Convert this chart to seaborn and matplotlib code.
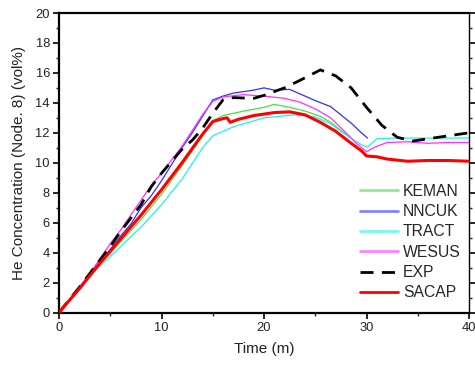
import matplotlib
matplotlib.use("Agg")
import matplotlib.pyplot as plt
from matplotlib.ticker import MultipleLocator
import seaborn as sns
import pandas as pd

# ---- data ----
keman_t = [0, 2, 4, 6, 8, 10, 12, 14, 15, 16, 18, 20, 21, 22.5, 24, 25.5, 26.5, 28]
keman_c = [0, 1.6, 3.2, 4.7, 6.2, 7.9, 9.8, 11.8, 12.8, 13.15, 13.45, 13.7, 13.9, 13.7, 13.45, 13.1, 12.7, 11.9]

nncuk_t = [0, 2, 3, 4, 5, 6, 7, 8, 9, 10, 11, 12, 13, 14, 15, 16, 17, 18, 19, 20, 21, 22.5, 24, 25, 26.5, 27.5, 28.5, 29.5, 30.1]
nncuk_c = [0, 1.6, 2.5, 3.4, 4.2, 5.1, 5.9, 7.0, 7.8, 8.8, 9.9, 11.0, 12.0, 13.1, 14.2, 14.45, 14.65, 14.75, 14.85, 15.0, 14.85, 14.9, 14.45, 14.15, 13.75, 13.2, 12.65, 12.0, 11.65]

tract_t = [0, 2, 3, 4, 6, 8, 10, 12, 14, 15, 17, 20, 23, 25, 26.5, 28, 29.5, 30.1, 31, 33, 36, 40]
tract_c = [0, 1.6, 2.4, 3.1, 4.4, 5.7, 7.2, 8.9, 11.0, 11.8, 12.4, 13.0, 13.2, 13.05, 12.6, 11.85, 11.2, 11.05, 11.6, 11.65, 11.65, 11.65]

wesus_t = [0, 2, 3, 4, 5, 6, 8, 9, 10, 12, 14, 15, 16, 18, 20, 22, 23.5, 25, 26.5, 28, 29, 30, 31, 32, 34, 36, 38, 40]
wesus_c = [0, 1.7, 2.6, 3.6, 4.6, 5.5, 7.5, 8.5, 9.3, 11.1, 13.2, 14.1, 14.4, 14.55, 14.45, 14.3, 14.05, 13.6, 13.0, 12.0, 11.3, 10.75, 11.1, 11.35, 11.4, 11.3, 11.35, 11.35]

exp_t = [0, 2, 4, 5, 6, 8, 9, 10, 11, 12, 13, 14, 15, 16, 17, 19, 20, 22, 23.5, 25.5, 27, 28.5, 30, 31.5, 33, 34.5, 36, 38, 40]
exp_c = [0, 1.7, 3.5, 4.4, 5.4, 7.2, 8.4, 9.3, 10.1, 10.9, 11.5, 12.3, 13.3, 14.2, 14.35, 14.3, 14.5, 15.0, 15.5, 16.2, 15.8, 15.0, 13.7, 12.5, 11.7, 11.45, 11.6, 11.8, 12.0]

sacap_t = [0, 2, 4, 6, 8, 10, 12, 14, 15, 16, 16.4, 16.7, 17.5, 19, 21, 22.5, 24, 25.5, 27, 28.5, 29.5, 30, 31, 32, 34, 36, 38, 40]
sacap_c = [0, 1.6, 3.3, 4.9, 6.5, 8.2, 10.0, 11.9, 12.75, 12.95, 13.0, 12.7, 12.9, 13.15, 13.35, 13.4, 13.2, 12.7, 12.1, 11.3, 10.8, 10.45, 10.4, 10.25, 10.1, 10.15, 10.15, 10.1]

# ---- styling ----
sns.set_style("ticks")
plt.rcParams['font.family'] = ['Liberation Sans', 'DejaVu Sans']

fig = plt.figure(figsize=(4.75, 3.66), dpi=100)
ax = fig.add_axes([59/475, 1-312.5/366, 410/475, 299.5/366])

series = [
    ("KEMAN", keman_t, keman_c, "#44e044", 0.9, "-", 2),
    ("NNCUK", nncuk_t, nncuk_c, "#3030ff", 0.9, "-", 2),
    ("TRACT", tract_t, tract_c, "#22f0f0", 0.9, "-", 2),
    ("WESUS", wesus_t, wesus_c, "#ff30ff", 0.9, "-", 2),
    ("EXP", exp_t, exp_c, "black", 2.0, (0, (4.7, 3.0)), 3),
    ("SACAP", sacap_t, sacap_c, "#ff0000", 2.2, "-", 4),
]
for name, t, c, col, lw, ls, z in series:
    df = pd.DataFrame({"t": t, "c": c})
    sns.lineplot(data=df, x="t", y="c", ax=ax, color=col, linewidth=lw,
                 linestyle=ls, label=name, sort=False, estimator=None, zorder=z)

ax.set_xlim(0, 40)
ax.set_ylim(0, 20)
ax.xaxis.set_major_locator(MultipleLocator(10))
ax.xaxis.set_minor_locator(MultipleLocator(5))
ax.yaxis.set_major_locator(MultipleLocator(2))
ax.yaxis.set_minor_locator(MultipleLocator(1))

for side in ["left", "bottom", "top"]:
    ax.spines[side].set_linewidth(1.6)
ax.spines["right"].set_linewidth(1.0)
for s in ax.spines.values():
    s.set_color("black")

ax.tick_params(axis="both", which="major", direction="out", length=4, width=1.2,
               labelsize=9.3, colors="black", labelcolor="#222222", pad=2.5)
ax.tick_params(axis="both", which="minor", direction="out", length=2.5, width=1.0)
ax.tick_params(axis="y", which="both", right=True, labelright=False)
ax.tick_params(axis="y", which="minor", right=True, length=2)

ax.set_xlabel("Time (m)", fontsize=11, color="#222222", labelpad=6)
ax.set_ylabel("He Concentration (Node. 8) (vol%)", fontsize=11, color="#222222", labelpad=7)

leg = ax.legend(loc="upper left", bbox_to_anchor=(0.734, 0.43), frameon=False,
                fontsize=11.3, handlelength=2.4, handletextpad=0.33,
                labelspacing=0.34, borderpad=0, borderaxespad=0)
for line in leg.get_lines()[:4]:
    line.set_linewidth(2.0)
    line.set_alpha(0.6)
leg.get_lines()[5].set_linewidth(2.0)

fig.savefig("out.png", dpi=100)
